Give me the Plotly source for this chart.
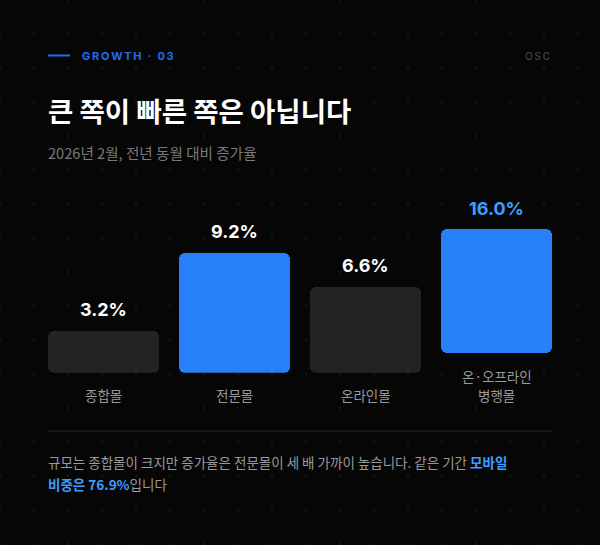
"""
Growth by mall type: Feb 2026, YoY.
"""

import numpy as np
import plotly.graph_objects as go

W, H = 600, 545

# data
categories = ["종합몰", "전문몰", "온라인몰", "온·오프라인<br>병행몰"]
growth = [3.2, 9.2, 6.6, 16.0]
# drawn bar extent as it appears in the source (last bar is squeezed by its 2-line label)
bar_base = [0, 0, 0, 1.5]
bar_len = [3.2, 9.2, 6.6, 9.5]
highlight = [False, True, False, True]
mobile_share = 76.9

BG = "#060606"
BLUE = "#2780f8"
BLUE_TXT = "#3d9eff"
GRAY_BAR = "#232323"
FONT = "Inter, 'Noto Sans CJK KR', sans-serif"
KFONT = "'Noto Sans CJK KR', Inter, sans-serif"


def py(px):
    """pixel-from-top -> paper fraction"""
    return 1 - px / H


fig = go.Figure()

# dotted background grid (pixel axes, drawn underneath)
gx, gy = np.meshgrid(np.arange(0, W + 1, 34), np.arange(0, H + 1, 34))
fig.add_trace(go.Scatter(
    x=gx.ravel(), y=gy.ravel(), mode="markers",
    marker=dict(size=2, color="#1a1a1a", symbol="square"),
    hoverinfo="skip", showlegend=False
))

fig.add_trace(go.Bar(
    x=categories,
    y=bar_len,
    base=bar_base,
    width=111 / 131,
    xaxis="x2", yaxis="y2",
    marker=dict(
        color=[BLUE if h else GRAY_BAR for h in highlight],
        line_width=0,
        cornerradius=6,
    ),
    hoverinfo="skip",
    showlegend=False,
))

# value labels above bars, category labels below (bottom-aligned, one line per annotation)
for cat, v, b, l, h in zip(categories, growth, bar_base, bar_len, highlight):
    fig.add_annotation(
        x=cat, y=b + l, xref="x2", yref="y2",
        text=f"<b>{v:.1f}%</b>", showarrow=False,
        yanchor="middle", yshift=21,
        font=dict(family=FONT, size=18, color=BLUE_TXT if (h and v == max(growth)) else "#ffffff"),
    )
    lines = cat.split("<br>")
    for i, line in enumerate(reversed(lines)):
        fig.add_annotation(
            x=cat, y=0, xref="x2", yref="y2",
            text=line, showarrow=False,
            yanchor="middle", yshift=-22.5 + 19 * i,
            font=dict(family=KFONT, size=13.5, color="#9a9a9a"),
        )

# header
fig.add_shape(type="line", xref="paper", yref="paper",
              x0=48 / W, x1=70 / W, y0=py(55.5), y1=py(55.5),
              line=dict(color="#1f6fef", width=2))
fig.add_annotation(
    x=80 / W, y=py(56), xref="paper", yref="paper", xanchor="left", yanchor="middle",
    text="<b>G\u2009R\u2009O\u2009W\u2009T\u2009H\u2009 \u2009·\u2009 \u20090\u20093</b>", showarrow=False,
    font=dict(family=FONT, size=11, color="#1f6fef"),
)
fig.add_annotation(
    x=552 / W, y=py(56), xref="paper", yref="paper", xanchor="right", yanchor="middle",
    text="O\u2009S\u2009C", showarrow=False,
    font=dict(family=FONT, size=10, color="#4d4d4d"),
)
fig.add_annotation(
    x=46 / W, y=py(110), xref="paper", yref="paper", xanchor="left", yanchor="middle",
    text="<b>큰 쪽이 빠른 쪽은 아닙니다</b>", showarrow=False,
    font=dict(family=KFONT, size=27.5, color="#ffffff"),
)
fig.add_annotation(
    x=46 / W, y=py(153), xref="paper", yref="paper", xanchor="left", yanchor="middle",
    text="2026년 2월, 전년 동월 대비 증가율", showarrow=False,
    font=dict(family=KFONT, size=14.6, color="#7a7a7a"),
)

# footer
fig.add_shape(type="line", xref="paper", yref="paper",
              x0=48 / W, x1=552 / W, y0=py(431), y1=py(431),
              line=dict(color="#222222", width=1))
fig.add_annotation(
    x=46 / W, y=py(462), xref="paper", yref="paper", xanchor="left", yanchor="middle",
    text=("규모는 종합몰이 크지만 증가율은 전문몰이 세 배 가까이 높습니다. 같은 기간 "
          f"<span style='color:{BLUE_TXT}'><b>모바일</b></span>"),
    showarrow=False, font=dict(family=KFONT, size=13.5, color="#9a9a9a"),
)
fig.add_annotation(
    x=46 / W, y=py(484), xref="paper", yref="paper", xanchor="left", yanchor="middle",
    text=f"<span style='color:{BLUE_TXT}'><b>비중은 {mobile_share}%</b></span>입니다",
    showarrow=False, font=dict(family=KFONT, size=13.5, color="#9a9a9a"),
)

y_top_px, y_base_px, px_per_unit = 190, 372.7, 13.05

fig.update_layout(
    width=W, height=H,
    margin=dict(l=0, r=0, t=0, b=0),
    paper_bgcolor=BG, plot_bgcolor="rgba(0,0,0,0)",
    bargap=0,
    xaxis=dict(domain=[0, 1], range=[0, W], visible=False, fixedrange=True),
    yaxis=dict(domain=[0, 1], range=[H, 0], visible=False, fixedrange=True),
    xaxis2=dict(domain=[38 / W, 562 / W], range=[-0.5, 3.5], visible=False,
                anchor="y2", fixedrange=True),
    yaxis2=dict(domain=[py(y_base_px), py(y_top_px)],
                range=[0, (y_base_px - y_top_px) / px_per_unit],
                visible=False, anchor="x2", fixedrange=True),
)

fig.write_html(
    "out.html",
    config={"displayModeBar": False},
    post_script=f"document.body.style.margin='0';document.body.style.background='{BG}';",
)
